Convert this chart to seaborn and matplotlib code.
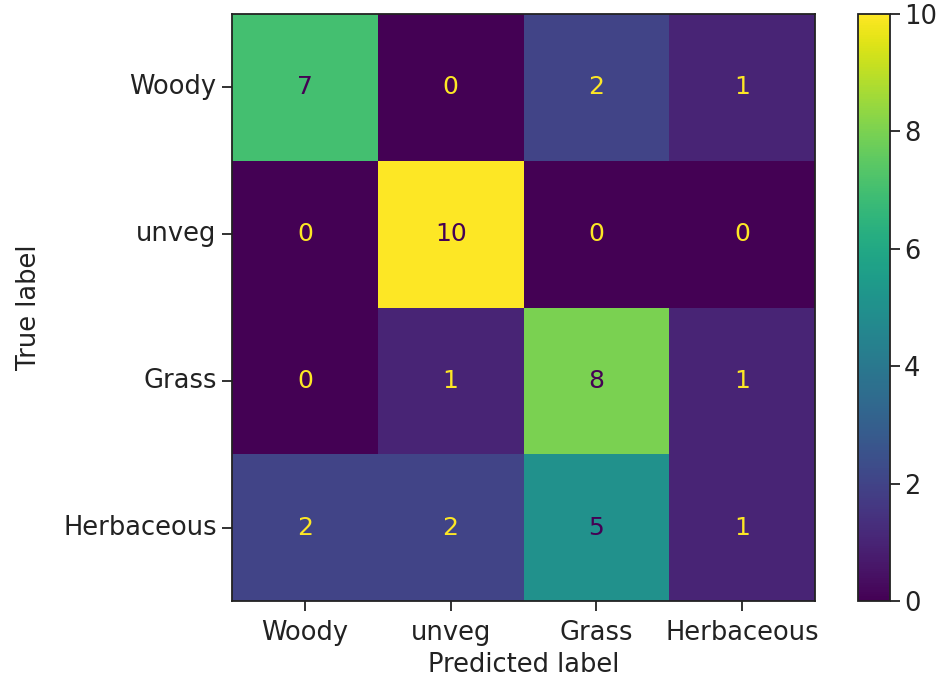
import matplotlib
matplotlib.use("Agg")
import matplotlib.pyplot as plt
import numpy as np
import pandas as pd
import seaborn as sns

labels = ["Woody", "unveg", "Grass", "Herbaceous"]
row_woody = [7, 0, 2, 1]
row_unveg = [0, 10, 0, 0]
row_grass = [0, 1, 8, 1]
row_herb = [2, 2, 5, 1]


def main():
    sns.set_theme(style="white")
    plt.rcParams["font.family"] = ["DejaVu Sans"]

    cm = pd.DataFrame([row_woody, row_unveg, row_grass, row_herb], index=labels, columns=labels)

    fig = plt.figure(figsize=(9.41, 6.86), dpi=100)
    ax = fig.add_axes([232 / 941, 1 - 601 / 686, 583 / 941, 587 / 686])
    cax = fig.add_axes([858 / 941, 1 - 601 / 686, 32 / 941, 587 / 686])

    fs = 18.5
    cmap = plt.get_cmap("viridis")
    sns.heatmap(
        cm,
        cmap=cmap,
        vmin=0,
        vmax=10,
        annot=True,
        fmt="d",
        annot_kws={"fontsize": 18},
        cbar_ax=cax,
        ax=ax,
    )

    # sklearn-style text colours: bright on dark cells, dark on bright cells
    thresh = (cm.values.max() + cm.values.min()) / 2.0
    for txt, val in zip(ax.texts, cm.values.flatten()):
        txt.set_color(cmap(1.0) if val < thresh else cmap(0.0))

    for side in ["top", "right", "bottom", "left"]:
        ax.spines[side].set_visible(True)
        ax.spines[side].set_color("#222222")
        ax.spines[side].set_linewidth(1.3)

    ax.set_xlabel("Predicted label", fontsize=fs, color="#222222", labelpad=4)
    ax.set_ylabel("True label", fontsize=fs, color="#222222", labelpad=15)
    ax.tick_params(axis="x", pad=7)
    ax.tick_params(axis="both", which="major", labelsize=fs, length=7, width=1.3,
                   colors="#222222", bottom=True, left=True)
    ax.tick_params(axis="y", pad=4)
    ax.set_yticklabels(labels, rotation=0)
    ax.set_xticklabels(labels, rotation=0)

    cbar = ax.collections[0].colorbar
    cbar.set_ticks([0, 2, 4, 6, 8, 10])
    cbar.ax.tick_params(labelsize=fs, length=7, width=1.3, colors="#222222", right=True, pad=3)
    cbar.outline.set_visible(True)
    cbar.outline.set_edgecolor("#222222")
    cbar.outline.set_linewidth(1.3)

    fig.savefig("out.png", dpi=100)
    plt.close(fig)


if __name__ == "__main__":
    main()
